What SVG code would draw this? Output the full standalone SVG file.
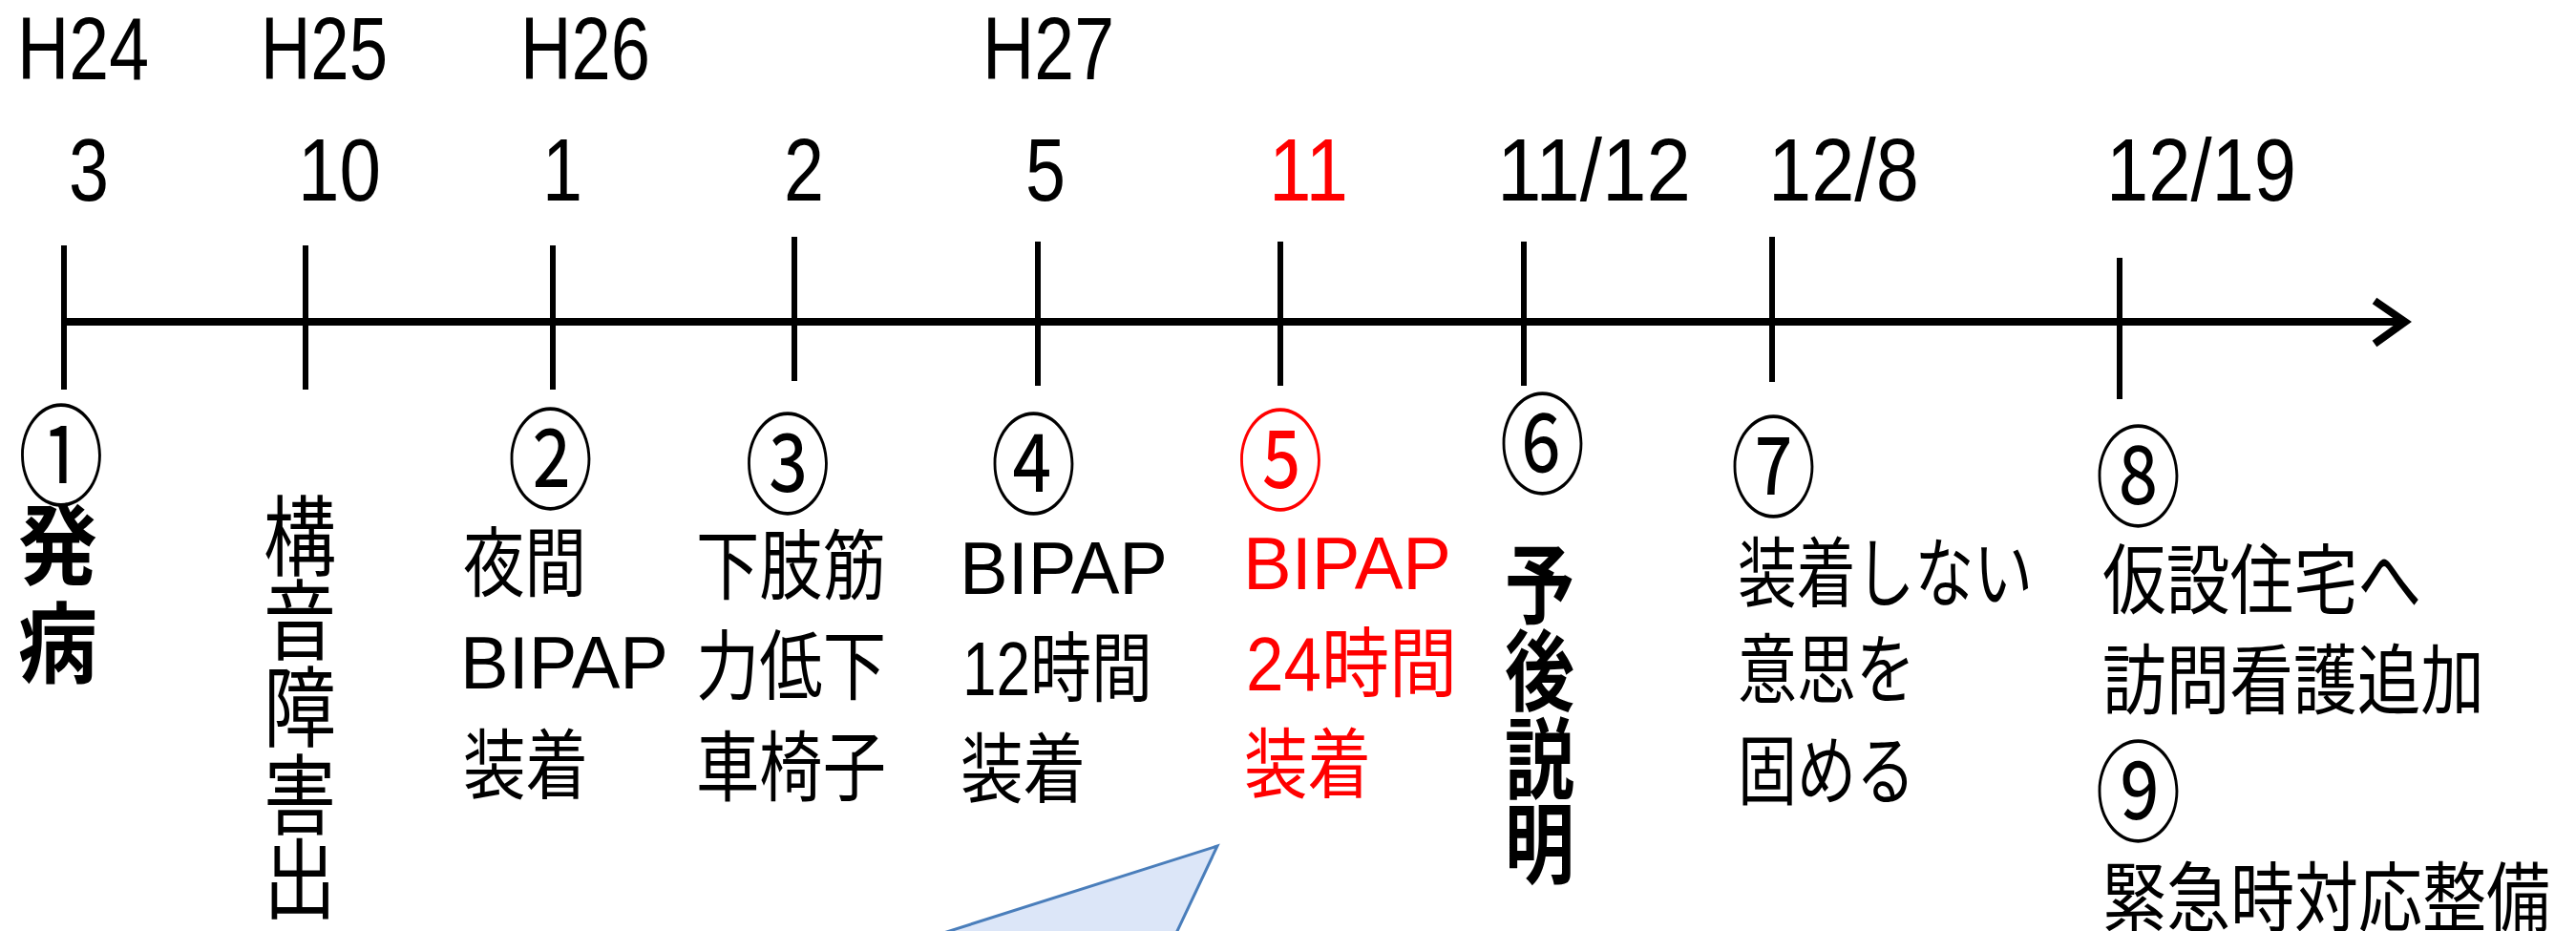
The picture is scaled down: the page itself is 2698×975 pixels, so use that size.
<svg xmlns="http://www.w3.org/2000/svg" width="2698" height="975" viewBox="0 0 2698 975">
<style>
.hd{font-family:"Liberation Sans",Arial,sans-serif;font-size:92px;fill:#000}
.jp{font-family:"Liberation Sans","Noto Sans CJK JP",sans-serif;font-size:80px;fill:#000}
.lat{font-family:"Liberation Sans",Arial,sans-serif;font-size:77px;fill:#000}
.cir{font-family:"Noto Sans CJK JP",sans-serif;font-size:115px;fill:#000}
.vt{font-family:"Noto Sans CJK JP",sans-serif;font-size:92px;fill:#000}
.vb{font-family:"Noto Sans CJK JP",sans-serif;font-size:92px;font-weight:bold;fill:#000}
.tick{stroke:#000;stroke-width:6;fill:none}
.axis{stroke:#000;stroke-width:8;fill:none}
text.red{fill:#ff0000}
</style>
<rect width="2698" height="975" fill="#fff"/>
<g id="connectors">
<line class="axis" x1="67" y1="337" x2="2515" y2="337"/>
<polyline class="axis" points="2487,315 2519,337 2487,360" stroke-width="7"/>
<line class="tick" x1="67" y1="257" x2="67" y2="408"/>
<line class="tick" x1="320" y1="257" x2="320" y2="408"/>
<line class="tick" x1="579" y1="257" x2="579" y2="408"/>
<line class="tick" x1="832" y1="248" x2="832" y2="399"/>
<line class="tick" x1="1087" y1="253" x2="1087" y2="404"/>
<line class="tick" x1="1341" y1="253" x2="1341" y2="404"/>
<line class="tick" x1="1596" y1="253" x2="1596" y2="404"/>
<line class="tick" x1="1856" y1="248" x2="1856" y2="400"/>
<line class="tick" x1="2220" y1="270" x2="2220" y2="418"/>
</g>
<g id="years">
<text class="hd" x="18" y="83" textLength="138" lengthAdjust="spacingAndGlyphs">H24</text>
<text class="hd" x="273" y="83" textLength="133" lengthAdjust="spacingAndGlyphs">H25</text>
<text class="hd" x="545" y="83" textLength="136" lengthAdjust="spacingAndGlyphs">H26</text>
<text class="hd" x="1029" y="83" textLength="138" lengthAdjust="spacingAndGlyphs">H27</text>
</g>
<g id="months">
<text class="hd" x="72" y="210" textLength="42" lengthAdjust="spacingAndGlyphs">3</text>
<text class="hd" x="312" y="210" textLength="87" lengthAdjust="spacingAndGlyphs">10</text>
<text class="hd" x="568" y="210" textLength="42" lengthAdjust="spacingAndGlyphs">1</text>
<text class="hd" x="821" y="210" textLength="42" lengthAdjust="spacingAndGlyphs">2</text>
<text class="hd" x="1074" y="210" textLength="42" lengthAdjust="spacingAndGlyphs">5</text>
<text class="hd red" x="1329" y="210" textLength="83" lengthAdjust="spacingAndGlyphs">11</text>
<text class="hd" x="1568" y="210" textLength="203" lengthAdjust="spacingAndGlyphs">11/12</text>
<text class="hd" x="1852" y="210" textLength="158" lengthAdjust="spacingAndGlyphs">12/8</text>
<text class="hd" x="2206" y="210" textLength="199" lengthAdjust="spacingAndGlyphs">12/19</text>
</g>
<g id="event1">
<text class="cir" x="19" y="520" textLength="90" lengthAdjust="spacingAndGlyphs">①</text>
<text class="vb" x="19" y="605" textLength="83" lengthAdjust="spacingAndGlyphs">発</text>
<text class="vb" x="19" y="708" textLength="83" lengthAdjust="spacingAndGlyphs">病</text>
</g>
<g id="event-koon">
<text class="vt" x="276" y="596" textLength="76" lengthAdjust="spacingAndGlyphs">構</text>
<text class="vt" x="276" y="684" textLength="76" lengthAdjust="spacingAndGlyphs">音</text>
<text class="vt" x="276" y="775" textLength="76" lengthAdjust="spacingAndGlyphs">障</text>
<text class="vt" x="276" y="867" textLength="76" lengthAdjust="spacingAndGlyphs">害</text>
<text class="vt" x="276" y="955" textLength="76" lengthAdjust="spacingAndGlyphs">出</text>
</g>
<g id="event2">
<text class="cir" x="531.5" y="524" textLength="90" lengthAdjust="spacingAndGlyphs">②</text>
<text class="jp" x="485" y="618" textLength="129" lengthAdjust="spacingAndGlyphs">夜間</text>
<text class="lat" x="482" y="721" textLength="218" lengthAdjust="spacingAndGlyphs">BIPAP</text>
<text class="jp" x="485" y="830" textLength="131" lengthAdjust="spacingAndGlyphs">装着</text>
</g>
<g id="event3">
<text class="cir" x="780" y="529" textLength="90" lengthAdjust="spacingAndGlyphs">③</text>
<text class="jp" x="729" y="621" textLength="199" lengthAdjust="spacingAndGlyphs">下肢筋</text>
<text class="jp" x="729" y="726" textLength="199" lengthAdjust="spacingAndGlyphs">力低下</text>
<text class="jp" x="729" y="832" textLength="199" lengthAdjust="spacingAndGlyphs">車椅子</text>
</g>
<g id="event4">
<text class="cir" x="1037.5" y="529" textLength="90" lengthAdjust="spacingAndGlyphs">④</text>
<text class="lat" x="1005" y="622" textLength="218" lengthAdjust="spacingAndGlyphs">BIPAP</text>
<text class="jp" x="1008" y="728" textLength="199" lengthAdjust="spacingAndGlyphs">12時間</text>
<text class="jp" x="1006" y="834" textLength="131" lengthAdjust="spacingAndGlyphs">装着</text>
</g>
<g id="event5">
<text class="cir red" x="1296" y="524.5" textLength="90" lengthAdjust="spacingAndGlyphs">⑤</text>
<text class="lat red" x="1302" y="617" textLength="218" lengthAdjust="spacingAndGlyphs">BIPAP</text>
<text class="jp red" x="1305" y="723" textLength="221" lengthAdjust="spacingAndGlyphs">24時間</text>
<text class="jp red" x="1303" y="829" textLength="133" lengthAdjust="spacingAndGlyphs">装着</text>
</g>
<g id="event6">
<text class="cir" x="1570.5" y="507.5" textLength="90" lengthAdjust="spacingAndGlyphs">⑥</text>
<text class="vb" x="1576" y="646" textLength="73" lengthAdjust="spacingAndGlyphs" font-size="88">予</text>
<text class="vb" x="1576" y="737" textLength="73" lengthAdjust="spacingAndGlyphs" font-size="88">後</text>
<text class="vb" x="1576" y="829" textLength="73" lengthAdjust="spacingAndGlyphs" font-size="88">説</text>
<text class="vb" x="1576" y="918" textLength="73" lengthAdjust="spacingAndGlyphs" font-size="88">明</text>
</g>
<g id="event7">
<text class="cir" x="1812.5" y="532" textLength="90" lengthAdjust="spacingAndGlyphs">⑦</text>
<text class="jp" x="1820" y="629" textLength="309" lengthAdjust="spacingAndGlyphs">装着しない</text>
<text class="jp" x="1820" y="730" textLength="186" lengthAdjust="spacingAndGlyphs">意思を</text>
<text class="jp" x="1820" y="836" textLength="186" lengthAdjust="spacingAndGlyphs">固める</text>
</g>
<g id="event8">
<text class="cir" x="2194.5" y="541.5" textLength="90" lengthAdjust="spacingAndGlyphs">⑧</text>
<text class="jp" x="2202" y="636" textLength="334" lengthAdjust="spacingAndGlyphs">仮設住宅へ</text>
<text class="jp" x="2202" y="741" textLength="400" lengthAdjust="spacingAndGlyphs">訪問看護追加</text>
<text class="cir" x="2194.5" y="872" textLength="90" lengthAdjust="spacingAndGlyphs">⑨</text>
<text class="jp" x="2202" y="969" textLength="469" lengthAdjust="spacingAndGlyphs">緊急時対応整備</text>
</g>
<g id="callout">
<path d="M 941 992 L 1275 886 L 1225 992" fill="#dce6f8" stroke="#4a7ebb" stroke-width="3" stroke-linejoin="miter"/>
</g>
</svg>
